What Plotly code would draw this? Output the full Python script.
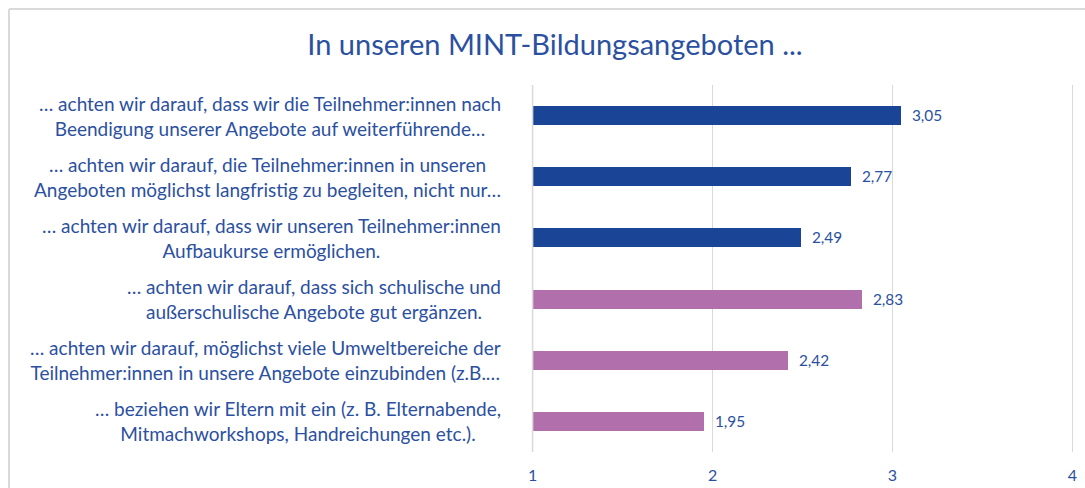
import plotly.graph_objects as go

# ---- data ----
categories = [
    "… achten wir darauf, dass wir die Teilnehmer:innen nach<br>Beendigung unserer Angebote auf weiterführende…",
    "… achten wir darauf, die Teilnehmer:innen in unseren<br>Angeboten möglichst langfristig zu begleiten, nicht nur…",
    "… achten wir darauf, dass wir unseren Teilnehmer:innen<br>Aufbaukurse ermöglichen.",
    "… achten wir darauf, dass sich schulische und<br>außerschulische Angebote gut ergänzen.",
    "… achten wir darauf, möglichst viele Umweltbereiche der<br>Teilnehmer:innen in unsere Angebote einzubinden (z.B.…",
    "… beziehen wir Eltern mit ein (z. B. Elternabende,<br>Mitmachworkshops, Handreichungen etc.).",
]
values = [3.05, 2.77, 2.49, 2.83, 2.42, 1.95]
groups = ["A", "A", "A", "B", "B", "B"]
x_ticks = [1, 2, 3, 4]
title_text = "In unseren MINT-Bildungsangeboten ..."

# ---- style ----
W, H = 1085, 488
X_MIN, X_MAX = 0.98, 4.02
UNIT = 180  # px per axis unit
ML = 533 - round((1 - X_MIN) * UNIT)
PW = round((X_MAX - X_MIN) * UNIT)
MR = W - ML - PW
MT, MB = 85, 36
group_colors = {"A": "#1A4596", "B": "#B170AB"}
text_color = "#2B50A0"
grid_color = "#D9D9D9"
font_family = "Lato, 'Open Sans', sans-serif"

ids = list(range(len(categories)))

fig = go.Figure()
fig.add_trace(go.Bar(
    y=ids,
    x=[v - x_ticks[0] for v in values],  # bars start at the axis base value 1
    base=x_ticks[0],
    orientation="h",
    marker=dict(color=[group_colors[g] for g in groups], line=dict(width=0)),
    width=0.31,
    customdata=values,
    texttemplate="\u00a0\u00a0%{customdata:.2f}",
    textposition="outside",
    textfont=dict(color=text_color, size=17, family=font_family),
    cliponaxis=False,
    hoverinfo="skip",
))

pw = W - ML - MR
ph = H - MT - MB

# category labels
for i, c in enumerate(categories):
    fig.add_annotation(
        x=(503 - ML) / pw, xref="paper", xanchor="right",
        y=i, yref="y", yanchor="middle",
        text=c, showarrow=False, align="center",
        font=dict(color=text_color, size=19, family=font_family),
    )

# gridline at the axis base value
fig.add_shape(type="line", xref="x", yref="paper",
              x0=x_ticks[0], x1=x_ticks[0], y0=0, y1=1, layer="above",
              line=dict(color=grid_color, width=1.5))

# chart border (top & left)
px = lambda p: (p - ML) / pw
py = lambda p: (H - MB - p) / ph
fig.add_shape(type="line", xref="paper", yref="paper",
              x0=px(9), x1=px(W), y0=py(9), y1=py(9),
              line=dict(color=grid_color, width=2))
fig.add_shape(type="line", xref="paper", yref="paper",
              x0=px(9), x1=px(9), y0=py(9), y1=py(H),
              line=dict(color=grid_color, width=2))

fig.update_layout(
    width=W, height=H,
    margin=dict(l=ML, r=MR, t=MT, b=MB, autoexpand=False),
    paper_bgcolor="white", plot_bgcolor="white",
    separators=",.",
    showlegend=False,
    bargap=0,
    title=dict(text=title_text, x=555 / W, xanchor="center",
               y=1 - 45 / H, yanchor="middle",
               font=dict(color=text_color, size=29, family=font_family)),
    xaxis=dict(range=[X_MIN, X_MAX], tickvals=x_ticks, showgrid=True,
               gridcolor=grid_color, gridwidth=1, zeroline=False,
               showline=False, ticks="", ticklabelstandoff=12,
               automargin=False,
               tickfont=dict(color=text_color, size=16, family=font_family)),
    yaxis=dict(range=[len(categories) - 0.5, -0.5], showticklabels=False,
               showgrid=False, zeroline=False, showline=False, ticks="",
               automargin=False),
)

fig.write_html(
    "out.html",
    config={"displayModeBar": False},
    post_script="document.body.style.margin='0';document.body.style.overflow='hidden';",
)
